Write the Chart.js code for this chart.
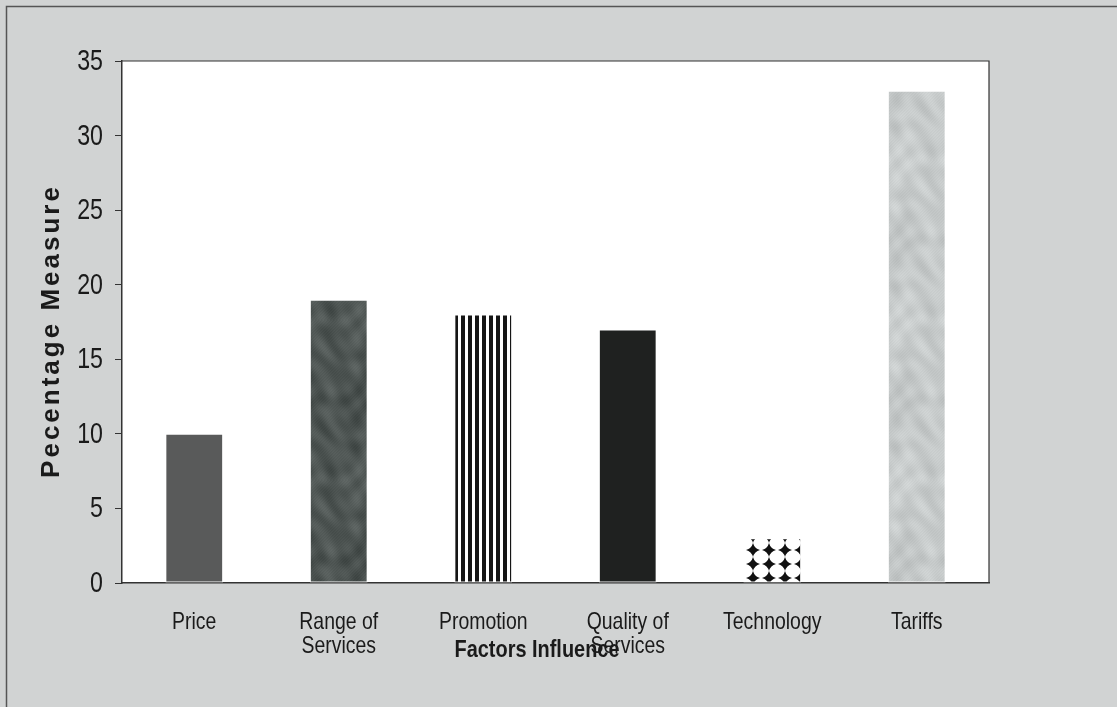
<!DOCTYPE html>
<html>
<head>
<meta charset="utf-8">
<script src="https://cdn.jsdelivr.net/npm/chart.js@4/dist/chart.umd.min.js"></script>
<style>
  html, body { margin: 0; padding: 0; background: #d1d3d3; }
  #wrap { width: 1117px; height: 707px; }
</style>
</head>
<body>
<div id="wrap"><canvas id="chart" width="1117" height="707"></canvas></div>
<script>
// Data
const categories = ['Price', ['Range of', 'Services'], 'Promotion', ['Quality of', 'Services'], 'Technology', 'Tariffs'];
const values     = [10, 19, 18, 17, 3, 33];
const yMin = 0, yMax = 35, yStep = 5;
const xTitle = 'Factors Influence';
const yTitle = 'Pecentage Measure';

const sans = '"Liberation Sans", Arial, sans-serif';

// Fill patterns
function stripePattern() {
  const c = document.createElement('canvas');
  c.width = 7; c.height = 4;
  const g = c.getContext('2d');
  g.fillStyle = '#fff'; g.fillRect(0, 0, 7, 4);
  g.fillStyle = '#151515'; g.fillRect(0, 0, 4, 4);
  const p = g.createPattern(c, 'repeat');
  p.setTransform(new DOMMatrix().translate(6, 0));
  return p;
}

function diamondPattern() {
  const c = document.createElement('canvas');
  c.width = 16; c.height = 14;
  const g = c.getContext('2d');
  g.fillStyle = '#fff'; g.fillRect(0, 0, 16, 14);
  g.fillStyle = '#111';
  const cx = 8, cy = 7, r = 7;
  g.beginPath();
  g.moveTo(cx, cy - r);
  g.quadraticCurveTo(cx + 1.5, cy - 1.5, cx + r, cy);
  g.quadraticCurveTo(cx + 1.5, cy + 1.5, cx, cy + r);
  g.quadraticCurveTo(cx - 1.5, cy + 1.5, cx - r, cy);
  g.quadraticCurveTo(cx - 1.5, cy - 1.5, cx, cy - r);
  g.closePath(); g.fill();
  const p = g.createPattern(c, 'repeat');
  p.setTransform(new DOMMatrix().translate(9, 11));
  return p;
}

// soft marble-like blotches, periodic so the tile repeats without seams
function mottlePattern(base, amp) {
  const w = 60, h = 160, T = Math.PI * 2;
  const c = document.createElement('canvas');
  c.width = w; c.height = h;
  const g = c.getContext('2d');
  const img = g.createImageData(w, h);
  for (let y = 0; y < h; y++) {
    for (let x = 0; x < w; x++) {
      const u = x / w, v = y / h;
      const n = Math.sin(T * u + 2.2 * Math.sin(T * 2 * v)) * Math.sin(T * 3 * v + 1.7 * Math.sin(T * u)) +
                0.35 * Math.sin(T * (3 * u - 5 * v));
      const d = ((x * 7 + y * 13) % 3 - 1) * 3;
      const k = (y * w + x) * 4;
      for (let ch = 0; ch < 3; ch++) img.data[k + ch] = base[ch] + amp * n + d;
      img.data[k + 3] = 255;
    }
  }
  g.putImageData(img, 0, 0);
  return g.createPattern(c, 'repeat');
}

const barColors = ['#595a5a', mottlePattern([78, 85, 83], 12), stripePattern(), '#1f2120', diamondPattern(), mottlePattern([198, 202, 202], 9)];

// narrow-looking text: squeeze regular glyphs horizontally
function narrowText(ctx, text, x, y, sx) {
  ctx.save();
  ctx.translate(x, y);
  ctx.scale(sx, 1);
  ctx.fillText(text, 0, 0);
  ctx.restore();
}

// background, plot area, tick labels and titles
const frame = {
  id: 'frame',
  beforeDraw(chart) {
    const { ctx, chartArea: a } = chart;
    ctx.save();
    ctx.fillStyle = '#d1d3d3';
    ctx.fillRect(0, 0, chart.width, chart.height);
    ctx.strokeStyle = '#555';
    ctx.lineWidth = 1.5;
    ctx.beginPath();
    ctx.moveTo(6.5, chart.height); ctx.lineTo(6.5, 6.5); ctx.lineTo(chart.width, 6.5);
    ctx.stroke();
    ctx.fillStyle = '#ffffff';
    ctx.fillRect(a.left, a.top, a.right - a.left, a.bottom - a.top);
    ctx.restore();
  },
  afterDraw(chart) {
    const { ctx, chartArea: a } = chart;
    const xs = chart.scales.x, ys = chart.scales.y;
    ctx.save();
    ctx.strokeStyle = '#333';
    ctx.lineWidth = 1.2;
    ctx.beginPath();
    ctx.moveTo(a.left, a.top); ctx.lineTo(a.right, a.top); ctx.lineTo(a.right, a.bottom);
    ctx.stroke();

    ctx.fillStyle = '#1a1a1a';
    ctx.textBaseline = 'middle';

    // y tick labels
    ctx.textAlign = 'right';
    ctx.font = '29px ' + sans;
    ys.ticks.forEach(t => {
      narrowText(ctx, String(t.value), 103, ys.getPixelForValue(t.value) + 1, 0.8);
    });

    // x tick labels
    ctx.textAlign = 'center';
    ctx.font = '24px ' + sans;
    categories.forEach((lab, i) => {
      const lines = Array.isArray(lab) ? lab : [lab];
      const px = xs.getPixelForTick(i);
      lines.forEach((ln, j) => narrowText(ctx, ln, px, a.bottom + 39 + j * 24, 0.81));
    });

    // axis titles
    ctx.font = 'bold 24px ' + sans;
    narrowText(ctx, xTitle, 537, 650, 0.83);

    ctx.translate(52, 331);
    ctx.rotate(-Math.PI / 2);
    ctx.font = 'bold 26px ' + sans;
    ctx.letterSpacing = '3px';
    ctx.fillText(yTitle, 0, 0);
    ctx.restore();
  }
};

new Chart(document.getElementById('chart'), {
  type: 'bar',
  data: {
    labels: categories,
    datasets: [{
      data: values,
      backgroundColor: barColors,
      borderColor: '#ffffff',
      borderWidth: 1,
      borderSkipped: false,
      barPercentage: 0.4,
      categoryPercentage: 1
    }]
  },
  options: {
    responsive: false,
    animation: false,
    devicePixelRatio: 1,
    layout: { padding: { top: 61, right: 128, bottom: 0, left: 0 } },
    plugins: { legend: { display: false }, tooltip: { enabled: false } },
    scales: {
      x: {
        grid: { display: false, drawTicks: false },
        border: { display: true, color: '#333', width: 1.5 },
        ticks: { display: false, autoSkip: false },
        afterFit(s) { s.height = 124; }
      },
      y: {
        min: yMin,
        max: yMax,
        grid: { display: true, drawOnChartArea: false, tickLength: 7, color: '#333' },
        border: { display: true, color: '#333', width: 1.5 },
        ticks: { display: false, stepSize: yStep },
        afterFit(s) { s.width = 122; }
      }
    }
  },
  plugins: [frame]
});
</script>
</body>
</html>
